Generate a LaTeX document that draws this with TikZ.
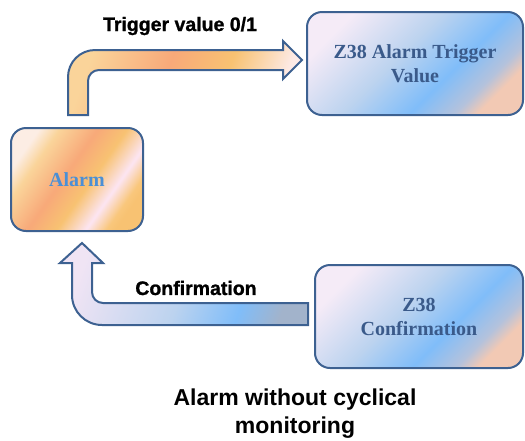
\documentclass[tikz,border=0pt]{standalone}
\usepackage{fontspec}
\setmainfont{Liberation Serif}
\newfontfamily\arialfont{Liberation Sans}
\newfontfamily\arialheavy{Liberation Sans Bold}[FakeBold=1.2]
\usetikzlibrary{positioning}

\definecolor{boxline}{HTML}{3D6191}
\definecolor{ztext}{HTML}{3A5A8A}
\definecolor{alarmtext}{HTML}{4A8FD6}
\definecolor{lavenderpink}{HTML}{F0E4F4}
\definecolor{lavenderlight}{HTML}{F5EBF7}
\definecolor{blueA}{HTML}{BCD3EF}
\definecolor{blueB}{HTML}{80BDF9}
\definecolor{blueC}{HTML}{B4C2DC}
\definecolor{peachA}{HTML}{F2C9B4}
\definecolor{greyblue}{HTML}{A2B3CB}
\definecolor{orA}{HTML}{FCEDE4}
\definecolor{orB}{HTML}{FAD49A}
\definecolor{orC}{HTML}{F8A979}
\definecolor{orD}{HTML}{F8C272}
\definecolor{orE}{HTML}{FCE5F2}
\definecolor{orF}{HTML}{F9C77C}
\definecolor{orG}{HTML}{FDEAE6}
\pgfdeclarehorizontalshading{bluefill}{100bp}{color(0bp)=(lavenderlight); color(25bp)=(lavenderlight); color(45bp)=(blueA); color(60bp)=(blueB); color(70bp)=(blueC); color(75bp)=(peachA); color(100bp)=(peachA)}
\pgfdeclarehorizontalshading{orangefill}{100bp}{color(0bp)=(orA); color(25bp)=(orA); color(32bp)=(orB); color(45bp)=(orC); color(55bp)=(orD); color(65bp)=(orE); color(72bp)=(orF); color(75bp)=(orD); color(100bp)=(orD)}
\pgfdeclarehorizontalshading{toparrowfill}{100bp}{color(0bp)=(orB); color(25bp)=(orB); color(45bp)=(orC); color(60bp)=(orD); color(75bp)=(orG); color(100bp)=(orG)}
\pgfdeclarehorizontalshading{botarrowfill}{100bp}{color(0bp)=(lavenderpink); color(25bp)=(lavenderpink); color(50bp)=(blueA); color(65bp)=(blueB); color(75bp)=(greyblue); color(100bp)=(greyblue)}

\begin{document}
\begin{tikzpicture}[x=1pt,y=-1pt,
  zbox/.style={draw=boxline,line width=2pt,rounded corners=15pt,shading=bluefill,shading angle=-45,
    text=ztext,font=\fontsize{20}{24}\selectfont\bfseries,align=center,minimum height=103pt},
  blockarrow/.style={draw=boxline,line width=2pt,line join=miter},
  flowlabel/.style={font=\arialheavy\fontsize{19.5}{24}\selectfont,text=black}]
\useasboundingbox (0,0) rectangle (525,440);

\node[draw=boxline,line width=2pt,rounded corners=15pt,shading=orangefill,shading angle=-35,
  text=alarmtext,font=\fontsize{20}{24}\selectfont\bfseries,minimum width=132pt,minimum height=103pt]
  (alarm) at (77,179.5) {Alarm};
\node[zbox,minimum width=216pt] (trigger) at (415,63.5) {Z38 Alarm Trigger\\Value};
\node[zbox,minimum width=208pt] (confirm) at (419,316.5) {Z38\\Confirmation};

\draw[blockarrow,shading=toparrowfill,shading angle=-20] (68,115) -- (68,77) arc[start angle=180,end angle=270,radius=27]
  -- (283,50) -- (283,41) -- (302,60) -- (283,79) -- (283,70) -- (99,70) arc[start angle=270,end angle=180,radius=11]
  -- (88,115) -- cycle;
\draw[blockarrow,shading=botarrowfill,shading angle=-20] (308,303) -- (103,303) arc[start angle=90,end angle=180,radius=11]
  -- (92,263) -- (103,263) -- (82,243) -- (60,263) -- (72,263) -- (72,295) arc[start angle=180,end angle=90,radius=30]
  -- (308,325) -- cycle;

\node[flowlabel] (triglabel) at (180,26) {Trigger value 0/1};
\node[flowlabel] (conflabel) at (196,288) {Confirmation};
\node[font=\arialfont\fontsize{23}{28}\selectfont\bfseries,align=center] (caption) at (295,414) {Alarm without cyclical\\monitoring};

\end{tikzpicture}
\end{document}
